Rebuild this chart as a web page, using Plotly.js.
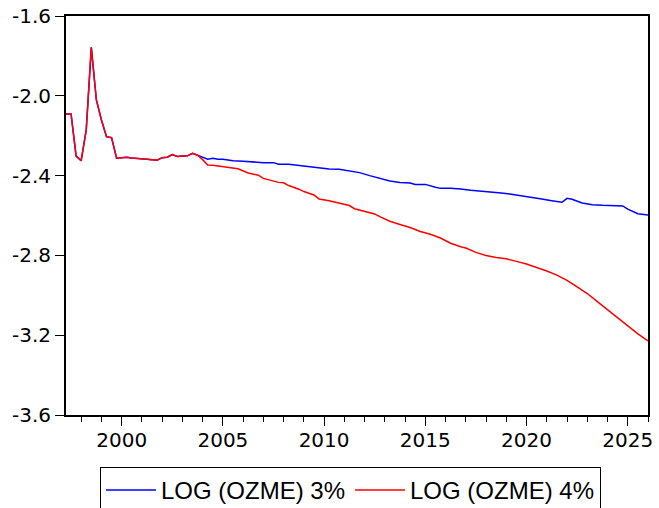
<!DOCTYPE html>
<html>
<head>
<meta charset="utf-8">
<script src="https://cdn.plot.ly/plotly-3.0.1.min.js"></script>
<style>html,body{margin:0;padding:0;background:#fff;}#chart{width:659px;height:508px;}</style>
</head>
<body>
<div id="chart"></div>
<script>
// Years (decimal) for each series
const yearsBlue = [1997.25,1997.50,1997.75,1998.00,1998.25,1998.50,1998.75,1999.00,1999.25,1999.50,1999.75,2000.00,2000.25,2000.50,2000.75,2001.00,2001.25,2001.50,2001.75,2002.00,2002.25,2002.50,2002.75,2003.00,2003.25,2003.50,2003.75,
  2004.00,2004.25,2004.50,2004.75,2005.00,2005.50,2006.00,2006.50,2007.00,2007.50,2007.75,2008.25,2008.75,2009.25,2009.75,2010.25,2010.75,2011.25,2011.75,2012.25,2012.75,2013.25,2013.75,2014.25,2014.50,2015.00,2015.50,2015.75,2016.25,2016.75,2017.25,2017.75,2018.25,2018.75,2019.25,2019.75,2020.25,2020.75,2021.25,2021.75,2022.00,2022.25,2022.75,2023.25,2023.75,2024.25,2024.75,2025.00,2025.25,2025.50,2026.00];
const logOzme3 = [-2.091,-2.091,-2.302,-2.325,-2.171,-1.757,-2.021,-2.121,-2.205,-2.210,-2.313,-2.310,-2.308,-2.312,-2.313,-2.316,-2.318,-2.320,-2.323,-2.310,-2.308,-2.295,-2.304,-2.302,-2.301,-2.288,-2.298,
  -2.310,-2.318,-2.313,-2.318,-2.318,-2.325,-2.328,-2.332,-2.335,-2.335,-2.343,-2.343,-2.349,-2.355,-2.360,-2.367,-2.368,-2.375,-2.385,-2.400,-2.413,-2.427,-2.434,-2.437,-2.444,-2.444,-2.458,-2.464,-2.464,-2.467,-2.474,-2.478,-2.480,-2.487,-2.493,-2.500,-2.509,-2.517,-2.526,-2.534,-2.514,-2.519,-2.537,-2.546,-2.549,-2.551,-2.552,-2.568,-2.580,-2.591,-2.597];

const yearsRed = [1997.25,1997.50,1997.75,1998.00,1998.25,1998.50,1998.75,1999.00,1999.25,1999.50,1999.75,2000.00,2000.25,2000.50,2000.75,2001.00,2001.25,2001.50,2001.75,2002.00,2002.25,2002.50,2002.75,2003.00,2003.25,2003.50,2003.75,
  2004.00,2004.25,2004.50,2004.75,2005.00,2005.50,2005.75,2006.25,2006.75,2007.00,2007.50,2007.75,2008.00,2008.25,2008.75,2009.00,2009.50,2009.75,2010.25,2010.75,2011.25,2011.50,2012.00,2012.50,2012.75,2013.25,2013.75,2014.25,2014.75,2015.25,2015.75,2016.25,2016.75,2017.00,2017.50,2018.00,2018.50,2019.00,2019.50,2020.00,2020.50,2021.00,2021.50,2022.00,2022.50,2023.00,2023.50,2024.00,2024.50,2025.00,2025.50,2026.00];
const logOzme4 = [-2.091,-2.091,-2.302,-2.325,-2.171,-1.757,-2.021,-2.121,-2.205,-2.210,-2.313,-2.310,-2.308,-2.312,-2.313,-2.316,-2.318,-2.320,-2.323,-2.310,-2.308,-2.295,-2.304,-2.302,-2.301,-2.288,-2.298,
  -2.320,-2.347,-2.348,-2.352,-2.356,-2.364,-2.366,-2.387,-2.398,-2.414,-2.428,-2.434,-2.436,-2.450,-2.468,-2.480,-2.497,-2.517,-2.526,-2.537,-2.550,-2.566,-2.578,-2.592,-2.606,-2.629,-2.645,-2.660,-2.680,-2.694,-2.713,-2.739,-2.757,-2.763,-2.785,-2.800,-2.811,-2.817,-2.830,-2.843,-2.861,-2.878,-2.899,-2.925,-2.958,-2.991,-3.032,-3.073,-3.115,-3.152,-3.193,-3.228];

const seriesNames = ['LOG (OZME) 3%', 'LOG (OZME) 4%'];
const xTickVals = [2000, 2005, 2010, 2015, 2020, 2025];
const yTickVals = [-3.6, -3.2, -2.8, -2.4, -2.0, -1.6];
const yTickText = ['-3.6', '-3.2', '-2.8', '-2.4', '-2.0', '-1.6'];

const traces = [
  {x: yearsBlue, y: logOzme3, name: seriesNames[0], type: 'scatter', mode: 'lines', line: {color: '#0000ff', width: 1.5}},
  {x: yearsRed, y: logOzme4, name: seriesNames[1], type: 'scatter', mode: 'lines', line: {color: '#ff0000', width: 1.5}}
];

const tickFont = {family: 'DejaVu Sans, sans-serif', size: 20, color: '#000'};

const layout = {
  width: 659, height: 508,
  margin: {l: 66, r: 11, t: 16, b: 93, pad: 0, autoexpand: false},
  paper_bgcolor: '#fff', plot_bgcolor: '#fff',
  showlegend: true,
  xaxis: {
    range: [1997.25, 2026.0], tickvals: xTickVals, tickformat: 'd',
    ticks: 'outside', ticklen: 9, tickwidth: 1, tickcolor: '#000', ticklabelstandoff: -3,
    minor: {dtick: 1, tick0: 2000, ticks: 'outside', ticklen: 5, tickwidth: 1, tickcolor: '#000', showgrid: false},
    showline: true, linecolor: '#000', linewidth: 2, mirror: true,
    showgrid: false, zeroline: false, tickfont: tickFont, automargin: false
  },
  yaxis: {
    range: [-3.6, -1.6], tickvals: yTickVals, ticktext: yTickText,
    ticks: 'outside', ticklen: 9, tickwidth: 1, tickcolor: '#000',
    showline: true, linecolor: '#000', linewidth: 2, mirror: true,
    showgrid: false, zeroline: false, tickfont: tickFont, automargin: false
  },
  legend: {
    orientation: 'h', x: 0.0584, y: -0.13, xanchor: 'left', yanchor: 'top',
    bordercolor: '#000', borderwidth: 1, bgcolor: '#fff',
    font: {family: 'Liberation Sans, Arial, sans-serif', size: 24, color: '#000'},
    itemwidth: 50
  }
};

Plotly.newPlot('chart', traces, layout, {displayModeBar: false, staticPlot: true});
</script>
</body>
</html>
